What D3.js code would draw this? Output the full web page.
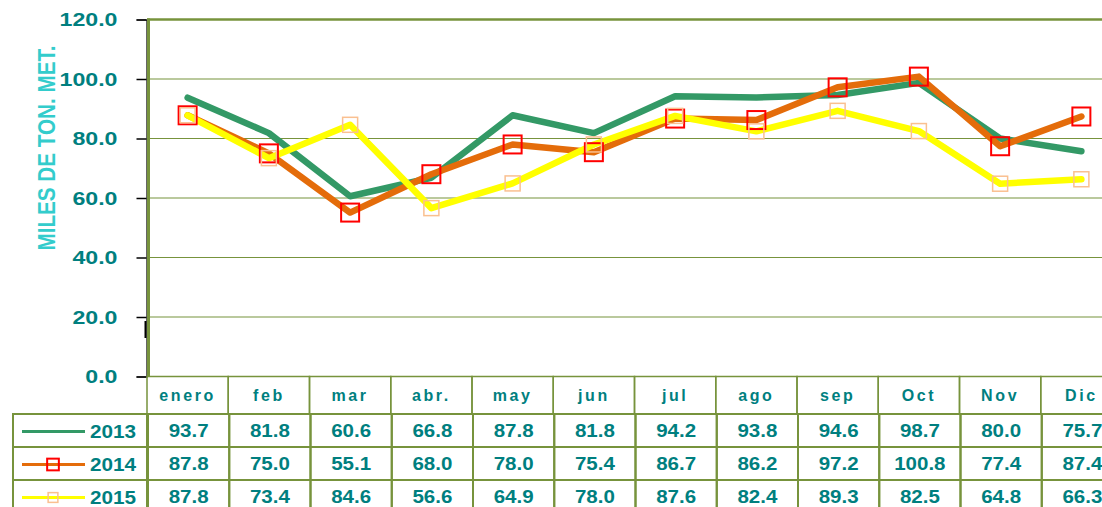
<!DOCTYPE html>
<html>
<head>
<meta charset="utf-8">
<script src="https://cdn.jsdelivr.net/npm/d3@7"></script>
<style>
  body { margin: 0; background: #fff; }
  svg text { font-family: "Liberation Sans", Arial, sans-serif; font-weight: bold; }
</style>
</head>
<body>
<script>
var width = 1102,
    height = 507;

// data
var months = ["enero", "feb", "mar", "abr.", "may", "jun", "jul", "ago", "sep", "Oct", "Nov", "Dic"];
var years = ["2013", "2014", "2015"];
var v2013 = [93.7, 81.8, 60.6, 66.8, 87.8, 81.8, 94.2, 93.8, 94.6, 98.7, 80.0, 75.7];
var v2014 = [87.8, 75.0, 55.1, 68.0, 78.0, 75.4, 86.7, 86.2, 97.2, 100.8, 77.4, 87.4];
var v2015 = [87.8, 73.4, 84.6, 56.6, 64.9, 78.0, 87.6, 82.4, 89.3, 82.5, 64.8, 66.3];
var yTicks = [0, 20, 40, 60, 80, 100, 120];

var olive = "#77933c",
    teal = "#007f7f";

var series = [
  { name: years[0], values: v2013, color: "#339966", marker: null },
  { name: years[1], values: v2014, color: "#e46c0a", marker: { stroke: "#ff0000", size: 18, sw: 2 } },
  { name: years[2], values: v2015, color: "#ffff00", marker: { stroke: "#fac090", size: 15, sw: 1.5 } }
];

// stretch text sideways like the original (wide glyphs)
function stretch(sel, k) {
  sel.each(function() {
    var n = this.getComputedTextLength();
    d3.select(this).attr("textLength", n * k).attr("lengthAdjust", "spacingAndGlyphs");
  });
}

var svg = d3.select("body").append("svg")
    .attr("width", width)
    .attr("height", height);

var x = d3.scaleBand().domain(months).range([147, 1122]);
var y = d3.scaleLinear().domain([0, 120]).range([376.5, 19.5]);

// gridlines
svg.append("g")
  .selectAll("line")
  .data(yTicks.filter(function(d) { return d > 0; }))
  .enter().append("line")
    .attr("x1", 147).attr("x2", width)
    .attr("y1", function(d) { return y(d); })
    .attr("y2", function(d) { return y(d); })
    .attr("stroke", olive)
    .attr("stroke-width", function(d) { return d == 120 ? 2.5 : 1.2; });

// y axis: black ticks, olive frame line
var yAxis = d3.axisLeft(y)
    .tickValues(yTicks)
    .tickSize(10)
    .tickFormat(function(d) { return d3.format(".1f")(d); });

var ga = svg.append("g")
    .attr("transform", "translate(146.5,0)")
    .call(yAxis);
ga.select(".domain").attr("stroke", "#000").attr("stroke-width", 1.2);
ga.selectAll(".tick line").attr("stroke", "#000").attr("stroke-width", 1.5);
ga.selectAll(".tick text")
    .attr("x", -29)
    .attr("fill", teal)
    .style("font-size", "19px")
    .call(stretch, 1.22);

svg.append("line")
    .attr("x1", 148.5).attr("x2", 148.5)
    .attr("y1", y(120) - 1).attr("y2", y(0))
    .attr("stroke", olive).attr("stroke-width", 3);

svg.append("line")
    .attr("x1", 145.5).attr("x2", 145.5)
    .attr("y1", 321).attr("y2", 338)
    .attr("stroke", "#000").attr("stroke-width", 2);

svg.append("text")
    .attr("transform", "translate(55,148) rotate(-90)")
    .attr("text-anchor", "middle")
    .attr("fill", "#33cccc")
    .attr("textLength", 205)
    .attr("lengthAdjust", "spacingAndGlyphs")
    .style("font-size", "24px")
    .text("MILES DE TON. MET.");

// lines
var line = d3.line()
    .x(function(d, i) { return x(months[i]) + x.bandwidth() / 2; })
    .y(function(d) { return y(d); });

svg.append("g")
  .selectAll("path")
  .data(series)
  .enter().append("path")
    .attr("d", function(d) { return line(d.values); })
    .attr("fill", "none")
    .attr("stroke", function(d) { return d.color; })
    .attr("stroke-width", 6.5)
    .attr("stroke-linejoin", "round")
    .attr("stroke-linecap", "round");

series.filter(function(s) { return s.marker; }).forEach(function(s) {
  svg.append("g")
    .selectAll("rect")
    .data(s.values)
    .enter().append("rect")
      .attr("x", function(d, i) { return x(months[i]) + x.bandwidth() / 2 - s.marker.size / 2; })
      .attr("y", function(d) { return y(d) - s.marker.size / 2; })
      .attr("width", s.marker.size)
      .attr("height", s.marker.size)
      .attr("fill", "none")
      .attr("stroke", s.marker.stroke)
      .attr("stroke-width", s.marker.sw);
});

// data table
var headTop = 376.5, headBot = 414, rowH = 33;
var tbl = svg.append("g");

tbl.selectAll(".hcell")
  .data(months)
  .enter().append("rect")
    .attr("x", function(d) { return x(d); })
    .attr("y", headTop)
    .attr("width", x.bandwidth())
    .attr("height", headBot - headTop)
    .attr("fill", "none")
    .attr("stroke", olive)
    .attr("stroke-width", 1.5);

tbl.selectAll(".htext")
  .data(months)
  .enter().append("text")
    .attr("x", function(d) { return x(d) + x.bandwidth() / 2; })
    .attr("y", (headTop + headBot) / 2 + 5.5)
    .attr("text-anchor", "middle")
    .attr("fill", teal)
    .style("font-size", "16px")
    .style("letter-spacing", "2.6px")
    .text(function(d) { return d; });

series.forEach(function(s, r) {
  var top = headBot + r * rowH;
  var g = tbl.append("g");
  g.append("rect")
    .attr("x", 13).attr("y", top)
    .attr("width", 147 - 13).attr("height", rowH)
    .attr("fill", "none").attr("stroke", olive).attr("stroke-width", 2);
  g.selectAll("rect.c")
    .data(months)
    .enter().append("rect")
      .attr("x", function(d) { return x(d) + 1; })
      .attr("y", top)
      .attr("width", x.bandwidth())
      .attr("height", rowH)
      .attr("fill", "none")
      .attr("stroke", olive)
      .attr("stroke-width", 2);
  g.selectAll("text.v")
    .data(s.values)
    .enter().append("text")
      .attr("x", function(d, i) { return x(months[i]) + x.bandwidth() / 2 + 1; })
      .attr("y", top + rowH / 2 + 6.5)
      .attr("text-anchor", "middle")
      .attr("fill", teal)
      .style("font-size", "18px")
      .text(function(d) { return d3.format(".1f")(d); })
      .call(stretch, 1.14);

  // legend key
  var cy = top + rowH / 2 + 1;
  g.append("line")
    .attr("x1", 22).attr("x2", 85)
    .attr("y1", cy).attr("y2", cy)
    .attr("stroke", s.color).attr("stroke-width", 3);
  if (s.marker) {
    var m = s.marker.size * 0.65;
    g.append("rect")
      .attr("x", 53 - m / 2).attr("y", cy - m / 2)
      .attr("width", m).attr("height", m)
      .attr("fill", "none")
      .attr("stroke", s.marker.stroke)
      .attr("stroke-width", s.marker.sw);
  }
  g.append("text")
    .attr("x", 136).attr("y", cy + 6.5)
    .attr("text-anchor", "end")
    .attr("fill", teal)
    .style("font-size", "18px")
    .text(s.name)
    .call(stretch, 1.15);
});
</script>
</body>
</html>
